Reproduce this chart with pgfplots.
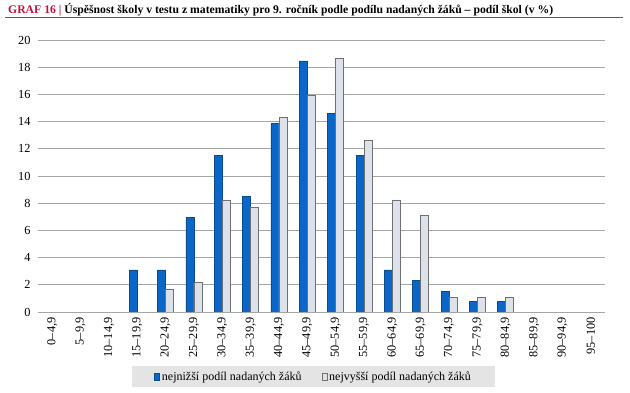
\documentclass[border=0pt]{standalone}
\usepackage{pgfplots}
\pgfplotsset{compat=1.18}
\usepackage{fontspec}
\setmainfont{Liberation Serif}
\definecolor{bblue}{HTML}{0A66C8}
\definecolor{bblueedge}{HTML}{0B4C8F}
\definecolor{lgray}{HTML}{DDE1E9}
\definecolor{lgrayedge}{HTML}{6F7070}
\definecolor{gridgray}{HTML}{A6A6A6}
\definecolor{titlered}{HTML}{C0143C}
\definecolor{linered}{HTML}{93405F}
\definecolor{leggray}{HTML}{E4E4E4}
\begin{document}
\begin{tikzpicture}[x=1pt,y=1pt]
\path[use as bounding box] (0,0) rectangle (630,393);
\node[anchor=base west, font=\bfseries\fontsize{11.7}{13}\selectfont, inner sep=0] at (8,379) {\textcolor{titlered}{GRAF 16 |} Úspěšnost školy v testu z matematiky pro 9. ročník podle podílu nadaných žáků – podíl škol (v \%)};
\draw[linered, line width=1pt] (5,375.5) -- (623,375.5);
\begin{axis}[at={(38pt,81pt)}, anchor=south west, scale only axis,
  width=567pt, height=272pt,
  ybar=0pt, bar width=8pt,
  ymin=0, ymax=20, ytick={0,2,...,20},
  xmin=-0.5, xmax=19.5, xtick={0,...,19},
  xticklabels={{0–4,9},{5–9,9},{10–14,9},{15–19,9},{20–24,9},{25–29,9},{30–34,9},{35–39,9},{40–44,9},{45–49,9},{50–54,9},{55–59,9},{60–64,9},{65–69,9},{70–74,9},{75–79,9},{80–84,9},{85–89,9},{90–94,9},{95–100}},
  /pgf/number format/assume math mode=true,
  x tick label style={rotate=90, anchor=east, font=\fontsize{12.3}{14}\selectfont, xshift=-2pt},
  y tick label style={font=\fontsize{12.3}{14}\selectfont, xshift=-4pt},
  major tick length=0pt,
  ymajorgrids, grid style={gridgray, line width=0.8pt},
  axis x line*=bottom, axis y line*=left,
  x axis line style={gridgray, line width=0.8pt},
  y axis line style={draw=none},
  legend style={at={(0.4861,-0.237)}, anchor=center, fill=leggray, draw=none,
    legend columns=2, font=\fontsize{12}{14}\selectfont,
    inner xsep=22pt, inner ysep=3pt,
    /tikz/every even column/.append style={column sep=18pt}},
  legend image code/.code={\draw[#1] (0pt,-3.5pt) rectangle (5pt,3.5pt);},
]
\addplot[fill=bblue, draw=bblueedge, line width=0.6pt] coordinates {(3,3.1) (4,3.1) (5,6.94) (6,11.52) (7,8.48) (8,13.84) (9,18.46) (10,14.62) (11,11.52) (12,3.1) (13,2.32) (14,1.54) (15,0.78) (16,0.78)};
\addplot[fill=lgray, draw=lgrayedge, line width=0.6pt] coordinates {(4,1.64) (5,2.15) (6,8.24) (7,7.73) (8,14.30) (9,15.94) (10,18.68) (11,12.64) (12,8.24) (13,7.14) (14,1.10) (15,1.10) (16,1.10)};
\legend{nejnižší podíl nadaných žáků, nejvyšší podíl nadaných žáků}
\end{axis}
\end{tikzpicture}
\end{document}
